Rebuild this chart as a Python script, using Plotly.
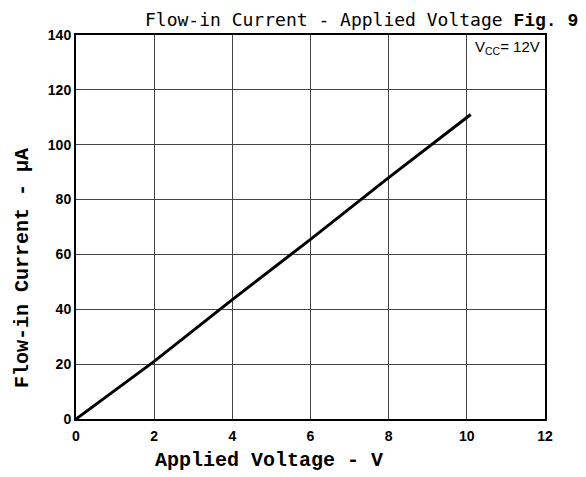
import plotly.graph_objects as go

voltage = [0, 2, 4, 6, 8, 10.1]
current = [0, 21, 43.5, 65.5, 88, 111]

x_ticks = [0, 2, 4, 6, 8, 10, 12]
y_ticks = [0, 20, 40, 60, 80, 100, 120, 140]

# page body has an 8px margin, so the figure is drawn 8px smaller
W, H = 578, 469
L, R, T, B = 68, 41, 27, 58
pw = W - L - R
ph = H - T - B

fig = go.Figure()
fig.add_trace(go.Scatter(x=voltage, y=current, mode="lines",
                         line=dict(color="black", width=3), showlegend=False))

axis_common = dict(showline=True, linecolor="black", linewidth=2, mirror=True,
                   showgrid=True, gridcolor="#444444", gridwidth=1, zeroline=False,
                   automargin=False, ticks="",
                   tickfont=dict(family="Liberation Sans", size=14, color="black"))

fig.update_xaxes(range=[0, 12], tickvals=x_ticks, ticktext=["<b>%d</b>" % v for v in x_ticks],
                 ticklabelstandoff=3, **axis_common)
fig.update_yaxes(range=[0, 140], tickvals=y_ticks, ticktext=["<b>%d</b>" % v for v in y_ticks],
                 **axis_common)

def px_to_paper(px, py):
    return (px - L) / pw, (H - B - py) / ph

# axis titles
xt = px_to_paper(261, 452)
fig.add_annotation(text="<b>Applied Voltage - V</b>", xref="paper", yref="paper",
                   x=xt[0], y=xt[1], xanchor="center", yanchor="middle", showarrow=False,
                   font=dict(family="Liberation Mono", size=20, color="black"))
yt = px_to_paper(14, 260)
fig.add_annotation(text="<b>Flow-in Current - μA</b>", xref="paper", yref="paper",
                   x=yt[0], y=yt[1], xanchor="center", yanchor="middle", showarrow=False,
                   textangle=-90,
                   font=dict(family="Liberation Mono", size=20, color="black"))

# chart title
tt = px_to_paper(572, 11.5)
fig.add_annotation(
    text="Flow-in Current - Applied Voltage <span style='font-family:Liberation Mono'><b>Fig. 9</b></span>",
    xref="paper", yref="paper", x=tt[0], y=tt[1],
    xanchor="right", yanchor="middle", showarrow=False,
    font=dict(family="DejaVu Sans Mono", size=18, color="black"))

fig.add_annotation(
    text="V<sub>CC</sub>= 12V",
    xref="paper", yref="paper", x=1.0, y=1.0, xshift=-3, yshift=-1,
    xanchor="right", yanchor="top", showarrow=False, bgcolor="white",
    font=dict(family="Liberation Sans", size=15, color="black"))

fig.update_layout(width=W, height=H, margin=dict(l=L, r=R, t=T, b=B),
                  paper_bgcolor="white", plot_bgcolor="white")

fig.write_html("out.html")
